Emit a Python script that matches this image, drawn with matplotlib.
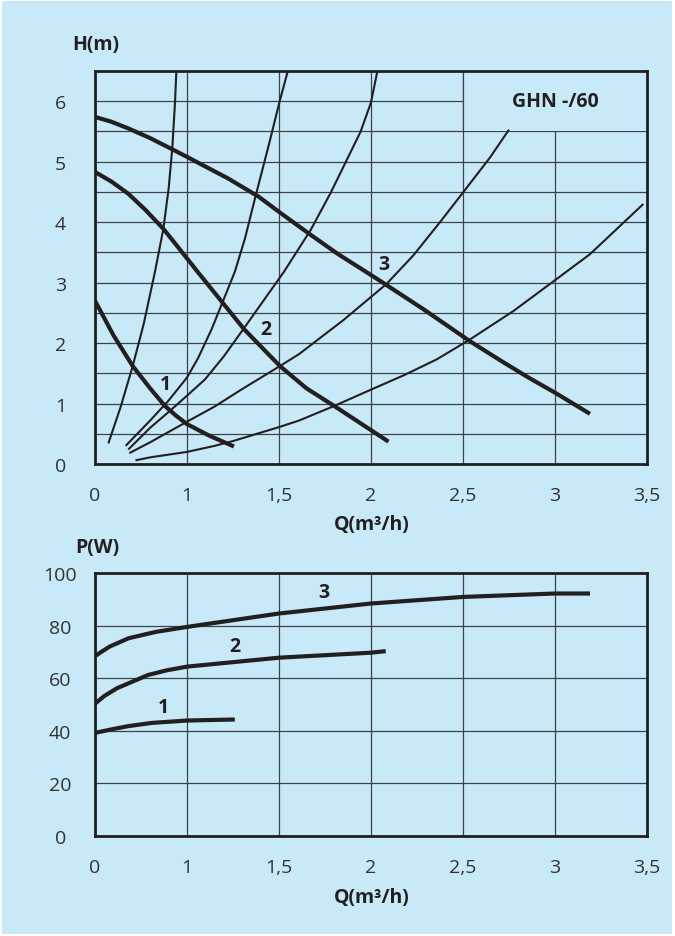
import numpy as np
import matplotlib
matplotlib.use("Agg")
import matplotlib.pyplot as plt
from matplotlib.patches import Rectangle

plt.rcParams['font.family'] = ['Open Sans', 'DejaVu Sans']

BG = '#c8e9f8'
INK = '#231f20'
GRID = '#3c4347'

# x axis: 0..1 takes one step, then each 0.5 step takes one step
x_ticks = [0, 1, 1.5, 2, 2.5, 3, 3.5]
x_labels = ['0', '1', '1,5', '2', '2,5', '3', '3,5']

# pump curves H(Q), speeds 1-3
q_pump1 = [0, 0.2, 0.41, 0.6, 0.76, 0.88, 1.0, 1.12, 1.255]
h_pump1 = [2.70, 2.13, 1.62, 1.25, 0.96, 0.80, 0.66, 0.47, 0.29]
q_pump2 = [0, 0.18, 0.362, 0.55, 0.743, 0.906, 1.0, 1.06, 1.31, 1.505, 1.65, 1.8, 1.95, 2.095]
h_pump2 = [4.83, 4.67, 4.47, 4.20, 3.89, 3.58, 3.40, 3.17, 2.23, 1.62, 1.25, 0.96, 0.66, 0.37]
q_pump3 = [0, 0.18, 0.362, 0.6, 0.833, 1.0, 1.225, 1.39, 1.5, 1.663, 1.817, 2.049,
           2.285, 2.538, 2.71, 2.85, 3.0, 3.19]
h_pump3 = [5.74, 5.66, 5.55, 5.39, 5.21, 5.08, 4.72, 4.42, 4.17, 3.81, 3.48, 3.03,
           2.56, 2.03, 1.70, 1.44, 1.18, 0.83]

# system curves (thin)
q_sysA = [0.145, 0.28, 0.41, 0.53, 0.652, 0.743, 0.80, 0.84, 0.87, 0.884]
h_sysA = [0.34, 0.95, 1.62, 2.32, 3.18, 3.89, 4.55, 5.22, 5.99, 6.49]
q_sysB = [0.333, 0.6, 0.8, 1.0, 1.06, 1.134, 1.26, 1.315, 1.37, 1.444, 1.502, 1.547]
h_sysB = [0.30, 0.72, 1.05, 1.43, 1.75, 2.23, 3.18, 3.73, 4.40, 5.27, 5.98, 6.49]
q_sysC = [0.362, 0.6, 0.8, 1.0, 1.098, 1.2, 1.306, 1.42, 1.527, 1.59, 1.672, 1.78,
          1.862, 1.944, 2.0, 2.034]
h_sysC = [0.24, 0.6, 0.86, 1.13, 1.40, 1.78, 2.23, 2.72, 3.18, 3.48, 3.87, 4.48,
          4.99, 5.5, 5.98, 6.49]
q_sysD = [0.373, 0.6, 0.8, 1.0, 1.15, 1.3, 1.5, 1.61, 1.85, 2.085, 2.23, 2.375,
          2.5, 2.647, 2.75]
h_sysD = [0.18, 0.36, 0.53, 0.70, 0.95, 1.24, 1.61, 1.82, 2.38, 2.98, 3.45, 4.0,
          4.49, 5.07, 5.53]
q_sysE = [0.44, 0.6, 0.8, 1.0, 1.15, 1.25, 1.5, 1.61, 1.8, 2.0, 2.18, 2.357,
          2.538, 2.774, 3.0, 3.19, 3.48]
h_sysE = [0.06, 0.11, 0.155, 0.2, 0.3, 0.38, 0.61, 0.72, 0.96, 1.23, 1.47, 1.73,
          2.06, 2.53, 3.04, 3.47, 4.3]

# power curves P(Q)
q_pow1 = [0, 0.2, 0.367, 0.617, 1.0, 1.26]
p_pow1 = [39.2, 40.7, 41.8, 43.0, 43.9, 44.3]
q_pow2 = [0, 0.1, 0.24, 0.575, 0.78, 1.0, 1.5, 2.0, 2.08]
p_pow2 = [50.3, 53.2, 56.2, 61.2, 63.0, 64.4, 67.8, 69.7, 70.3]
q_pow3 = [0, 0.06, 0.158, 0.366, 0.66, 1.0, 1.5, 2.0, 2.5, 3.0, 3.19]
p_pow3 = [68.4, 69.8, 72.0, 75.2, 77.6, 79.5, 84.6, 88.4, 90.9, 92.2, 92.2]


def fwd(q):
    q = np.asarray(q, dtype=float)
    return np.where(q <= 1, q, 2 * q - 1)


def inv(p):
    p = np.asarray(p, dtype=float)
    return np.where(p <= 1, p, (p + 1) / 2)


fig = plt.figure(figsize=(6.75, 9.37), dpi=100, facecolor='white')
fig.patches.append(Rectangle((2 / 675, 2 / 937), 670 / 675, 933 / 937,
                             transform=fig.transFigure, facecolor=BG,
                             edgecolor='none', zorder=-10))

ax1 = fig.add_axes([95 / 675, 1 - 465 / 937, 552 / 675, 393 / 937])
ax2 = fig.add_axes([95 / 675, 1 - 837 / 937, 552 / 675, 263 / 937])


def style(ax, yticks, ymax):
    ax.set_facecolor(BG)
    ax.set_xscale('function', functions=(fwd, inv))
    ax.set_xlim(0, 3.5)
    ax.set_ylim(0, ymax)
    ax.set_xticks(x_ticks)
    ax.set_xticklabels(x_labels)
    ax.set_yticks(yticks)
    ax.tick_params(length=0, labelsize=14, colors='#333333')
    ax.tick_params(axis='x', pad=16)
    ax.tick_params(axis='y', pad=25)
    for lab in ax.get_yticklabels():
        lab.set_horizontalalignment('center')
    for s in ax.spines.values():
        s.set_linewidth(2.0)
        s.set_color(INK)
    ax.xaxis.grid(True, color=GRID, lw=0.9)
    ax.set_axisbelow(True)


style(ax1, [0, 1, 2, 3, 4, 5, 6], 6.5)
ax1.set_yticks(np.arange(0.5, 6.5, 1.0), minor=True)
ax1.tick_params(which='minor', length=0)
ax1.yaxis.grid(True, which='both', color=GRID, lw=0.9)
# blank box behind the model name
ax1.add_patch(Rectangle((2.5, 5.5), 1.0, 1.0, facecolor=BG, edgecolor='none', zorder=1.5))
ax1.plot([2.5, 2.5], [5.5, 6.5], color=GRID, lw=0.9, zorder=1.6)
ax1.text(3.0, 6.0, 'GHN -/60', fontsize=14, fontweight='bold', color=INK,
         ha='center', va='center', zorder=3)

for q, h in [(q_sysA, h_sysA), (q_sysB, h_sysB), (q_sysC, h_sysC),
             (q_sysD, h_sysD), (q_sysE, h_sysE)]:
    ax1.plot(q, h, color=INK, lw=1.5, solid_capstyle='butt', solid_joinstyle='round', zorder=2)
for q, h in [(q_pump1, h_pump1), (q_pump2, h_pump2), (q_pump3, h_pump3)]:
    ax1.plot(q, h, color=INK, lw=3.0, solid_capstyle='butt', solid_joinstyle='round', zorder=2.5)

ax1.text(0.77, 1.32, '1', fontsize=14, fontweight='bold', color=INK, ha='center', va='center')
ax1.text(1.427, 2.23, '2', fontsize=14, fontweight='bold', color=INK, ha='center', va='center')
ax1.text(2.07, 3.31, '3', fontsize=14, fontweight='bold', color=INK, ha='center', va='center')

style(ax2, [0, 20, 40, 60, 80, 100], 100)
ax2.yaxis.grid(True, color=GRID, lw=0.9)
for q, p in [(q_pow1, p_pow1), (q_pow2, p_pow2), (q_pow3, p_pow3)]:
    ax2.plot(q, p, color=INK, lw=3.0, solid_capstyle='butt', solid_joinstyle='round', zorder=2.5)
ax2.text(0.742, 48.9, '1', fontsize=14, fontweight='bold', color=INK, ha='center', va='center')
ax2.text(1.26, 72.4, '2', fontsize=14, fontweight='bold', color=INK, ha='center', va='center')
ax2.text(1.745, 92.7, '3', fontsize=14, fontweight='bold', color=INK, ha='center', va='center')

lab_kw = dict(fontsize=14, fontweight='bold', color=INK, ha='center', va='center')
fig.text(96 / 675, 1 - 45 / 937, 'H(m)', **lab_kw)
fig.text(97 / 675, 1 - 548 / 937, 'P(W)', **lab_kw)
fig.text(372 / 675, 1 - 525 / 937, 'Q(m³/h)', **lab_kw)
fig.text(372 / 675, 1 - 898 / 937, 'Q(m³/h)', **lab_kw)

fig.savefig('out.png', dpi=100, facecolor=fig.get_facecolor())
